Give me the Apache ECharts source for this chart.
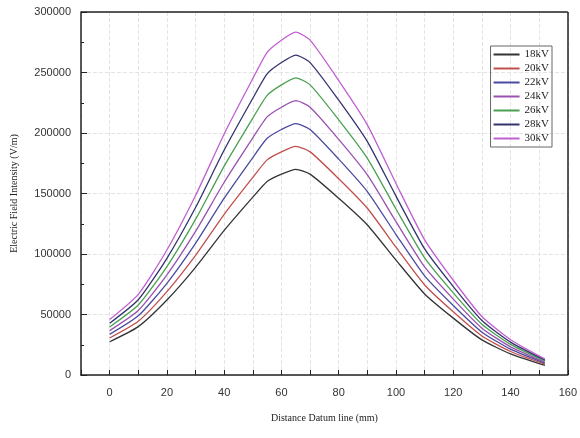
<!DOCTYPE html>
<html><head><meta charset="utf-8">
<script src="https://cdn.jsdelivr.net/npm/echarts@6/dist/echarts.min.js"></script>
<style>html,body{margin:0;padding:0;background:#fff}#c{width:580px;height:438px}</style>
</head><body><div id="c"></div>
<script>
const xs = [0,10,20,30,40,50,55,60,65,70,80,90,100,110,120,130,140,152];
const names = ['18kV','20kV','22kV','24kV','26kV','28kV','30kV'];
const colors = ['#333333','#c0504d','#4a4aa0','#9a50b0','#4aa050','#33336e','#c060d0'];
const v18 = [27500,40000,62000,89000,119500,147000,160000,166000,170000,166000,146000,124000,95000,67000,47000,29000,17500,8000];
const v20 = [30600,44400,68900,98900,132800,163300,177800,184400,188900,184400,162200,137800,105600,74400,52200,32200,19400,8900];
const v22 = [33600,48900,75800,108800,146100,179700,195600,202900,207800,202900,178400,151600,116100,81900,57400,35400,21400,9800];
const v24 = [36700,53300,82700,118700,159300,196000,213300,221300,226700,221300,194700,165300,126700,89300,62700,38700,23300,10700];
const v26 = [39700,57800,89600,128600,172600,212300,231100,239800,245600,239800,210900,179100,137200,96800,67900,41900,25300,11600];
const v28 = [42800,62200,96400,138400,185900,228700,248900,258200,264400,258200,227100,192900,147800,104200,73100,45100,27200,12400];
const v30 = [45800,66700,103300,148300,199200,245000,266700,276700,283300,276700,243300,206700,158300,111700,78300,48300,29200,13300];
const vals = [v18,v20,v22,v24,v26,v28,v30];
const chart = echarts.init(document.getElementById('c'));
const axLine = {show:true,onZero:false,lineStyle:{color:'#222',width:1.5}};
chart.setOption({
  animation:false,
  grid:{left:81,right:10,top:12,bottom:63},
  legend:{right:28,top:46,orient:'vertical',itemWidth:26,itemHeight:2,itemGap:3,
    icon:'rect',borderColor:'#666',borderWidth:1,padding:[3,3,3,3],
    textStyle:{fontFamily:'Liberation Serif',fontSize:11,color:'#222'}, data:names},
  xAxis:{type:'value',min:-10,max:160,interval:10,name:'Distance Datum line (mm)',nameLocation:'middle',nameGap:38,
    nameTextStyle:{fontFamily:'Liberation Serif',fontSize:10,color:'#222'},
    axisLine:axLine,axisTick:{inside:true,length:5,lineStyle:{color:'#222'}},
    axisLabel:{fontFamily:'Liberation Sans',fontSize:11,color:'#333',margin:12,
      formatter:v=>(v>=0&&v%20===0)?String(v):''},
    splitLine:{show:true,lineStyle:{color:'#e4e4e4',type:'dashed'}}},
  yAxis:{type:'value',min:0,max:300000,interval:50000,name:'Electric Field Intensity (V/m)',nameLocation:'middle',nameGap:62,
    nameTextStyle:{fontFamily:'Liberation Serif',fontSize:10,color:'#222'},
    axisLine:axLine,axisTick:{inside:true,length:6,lineStyle:{color:'#222'}},
    minorTick:{show:true,splitNumber:2,length:3,lineStyle:{color:'#222'}},
    axisLabel:{fontFamily:'Liberation Sans',fontSize:11,color:'#333',margin:10,formatter:v=>String(v)},
    splitLine:{show:true,lineStyle:{color:'#e4e4e4',type:'dashed'}}},
  series: names.map((n,i)=>({name:n,type:'line',symbol:'none',smooth:0.2,color:colors[i],
    lineStyle:{width:1.3},data:xs.map((x,j)=>[x,vals[i][j]])})).concat([
    {type:'line',data:[],markLine:{silent:true,symbol:'none',label:{show:false},
      lineStyle:{color:'#222',width:1.5,type:'solid'},data:[{xAxis:160},{yAxis:300000}]}}])
});
</script></body></html>
